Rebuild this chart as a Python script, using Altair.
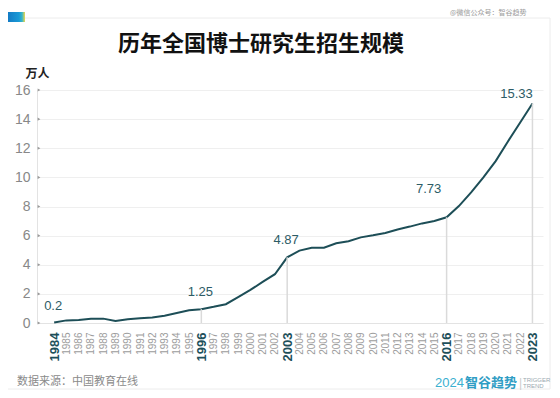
import altair as alt
import pandas as pd

# ---- data ----
years = list(range(1984, 2024))
values = [0.03, 0.18, 0.21, 0.30, 0.30, 0.14, 0.25, 0.32, 0.37, 0.50,
          0.68, 0.87, 0.95, 1.11, 1.29, 1.77, 2.27, 2.82, 3.35, 4.51,
          4.97, 5.17, 5.17, 5.47, 5.61, 5.88, 6.02, 6.18, 6.42, 6.62,
          6.84, 7.00, 7.26, 8.03, 8.97, 10.00, 11.12, 12.47, 13.77, 15.07]
highlight_years = [1984, 1996, 2003, 2016, 2023]
highlight_labels = ["0.2", "1.25", "4.87", "7.73", "15.33"]
y_ticks = [0, 2, 4, 6, 8, 10, 12, 14, 16]

title_text = "历年全国博士研究生招生规模"
unit_text = "万人"
source_text = "数据来源：中国教育在线"
watermark_text = "@微信公众号：智谷趋势"

df = pd.DataFrame({"year": years, "value": values})
ann = pd.DataFrame({
    "year": highlight_years,
    "label": highlight_labels,
    "value": [values[years.index(y)] for y in highlight_years],
})
ticks_df = pd.DataFrame({"value": y_ticks})
one = pd.DataFrame({"a": [0]})

CJK = "Noto Sans CJK SC"
NUM = "Liberation Sans"
LINE = "#1d4e57"

x_scale = alt.Scale(domain=[1982.6, 2023.86], nice=False, zero=False)
y_scale = alt.Scale(domain=[0, 16], nice=False, zero=True)

hl = "indexof([1984,1996,2003,2016,2023], datum.value) >= 0"

x_axis = alt.Axis(
    values=years, format="d", labelAngle=-90, ticks=False, grid=False,
    domain=True, domainColor="#e3e3e3", labelPadding=9, labelOverlap=False,
    labelFont=NUM, labelBound=False, labelFlush=False,
    labelFontSize={"condition": {"test": hl, "value": 13}, "value": 10},
    labelFontWeight={"condition": {"test": hl, "value": "bold"}, "value": "normal"},
    labelColor={"condition": {"test": hl, "value": "#1d4f5a"}, "value": "#9c9c9c"},
    title=None,
)
y_axis = alt.Axis(
    values=y_ticks, grid=True, gridColor="#efefef", ticks=False,
    domain=True, domainColor="#e3e3e3", labelPadding=7, labelFontSize=14,
    labelColor="#888888", labelFont=NUM, labelOverlap=False,
    title=unit_text, titleAngle=0, titleX=0, titleY=-17, titleAlign="center",
    titleBaseline="middle", titleFontSize=12, titleFontWeight="bold",
    titleFont=CJK, titleColor="#222222",
)

X = alt.X("year:Q", scale=x_scale, axis=x_axis)
Y = alt.Y("value:Q", scale=y_scale, axis=y_axis)

line = alt.Chart(df).mark_line(color=LINE, strokeWidth=2).encode(x=X, y=Y)

rules = alt.Chart(ann).transform_filter("datum.year > 1984").mark_rule(
    color="#dadada", strokeWidth=1.5
).encode(x=X, y=Y, y2=alt.datum(0))

def ann_layer(cond, dx, dy):
    return alt.Chart(ann).transform_filter(cond).mark_text(
        font=NUM, fontSize=13, color="#2d5c66", dx=dx, dy=dy,
        align="center", baseline="middle",
    ).encode(x=X, y=Y, text="label:N")

ann_a = ann_layer("datum.year < 2010", -1, -17)
ann_b = ann_layer("datum.year == 2016", -18, -28)
ann_c = ann_layer("datum.year == 2023", -16, -10)

tri = alt.Chart(ticks_df).mark_point(
    shape="triangle-right", filled=True, size=10, color="#9a9a9a", opacity=1
).encode(x=alt.value(2), y=Y)

def deco(txt, x, y, **kw):
    return alt.Chart(one).mark_text(text=txt, **kw).encode(
        x=alt.value(x), y=alt.value(y)
    )

card = alt.Chart(one).mark_rect(
    fillOpacity=0, stroke="#ececec", strokeWidth=1
).encode(x=alt.value(-32), x2=alt.value(513), y=alt.value(-72), y2=alt.value(299))

badge = alt.Chart(one).mark_rect(
    color=alt.LinearGradient(
        gradient="linear", x1=0, x2=1, y1=0, y2=0,
        stops=[alt.GradientStop(color="#1273c0", offset=0),
               alt.GradientStop(color="#1a9ad6", offset=0.7),
               alt.GradientStop(color="#35b6c8", offset=0.85),
               alt.GradientStop(color="#f2d84a", offset=1)],
    )
).encode(x=alt.value(-32), x2=alt.value(-12), y=alt.value(-78), y2=alt.value(-68))

title = deco(title_text, 224, -46, font=CJK, fontSize=22, fontWeight="bold",
             color="#111111", align="center", baseline="middle")
watermark = deco(watermark_text, 413, -77, font=CJK, fontSize=7,
                 color="#9a9a9a", align="left", baseline="middle")
source = deco(source_text, -20, 292, font=CJK, fontSize=11, color="#8a8a8a",
              align="left", baseline="middle")
logo_num = deco("2024", 398, 293, font=NUM, fontSize=13, color="#3ab0d0",
                align="left", baseline="middle")
logo_cn = deco("智谷趋势", 428, 293, font=CJK, fontSize=13, fontWeight="bold",
               color="#2f9dc4", align="left", baseline="middle")
logo_bar = deco("|", 482, 293, font=NUM, fontSize=12, color="#cccccc",
                align="left", baseline="middle")
logo_en1 = deco("TRIGGER", 486, 289.5, font=NUM, fontSize=6, color="#9aaab0",
                align="left", baseline="middle")
logo_en2 = deco("TREND", 486, 296, font=NUM, fontSize=6, color="#9aaab0",
                align="left", baseline="middle")

chart = alt.layer(
    card, badge, line, rules, ann_a, ann_b, ann_c, tri,
    title, watermark, source, logo_num, logo_cn, logo_bar, logo_en1, logo_en2,
).properties(
    width=506, height=233,
    autosize=alt.AutoSizeParams(type="none"),
    padding={"left": 29, "top": 82, "right": 9, "bottom": 67},
    background="white",
).configure_view(stroke=None)

chart.save("out.html", embed_options={"renderer": "svg", "actions": False})
